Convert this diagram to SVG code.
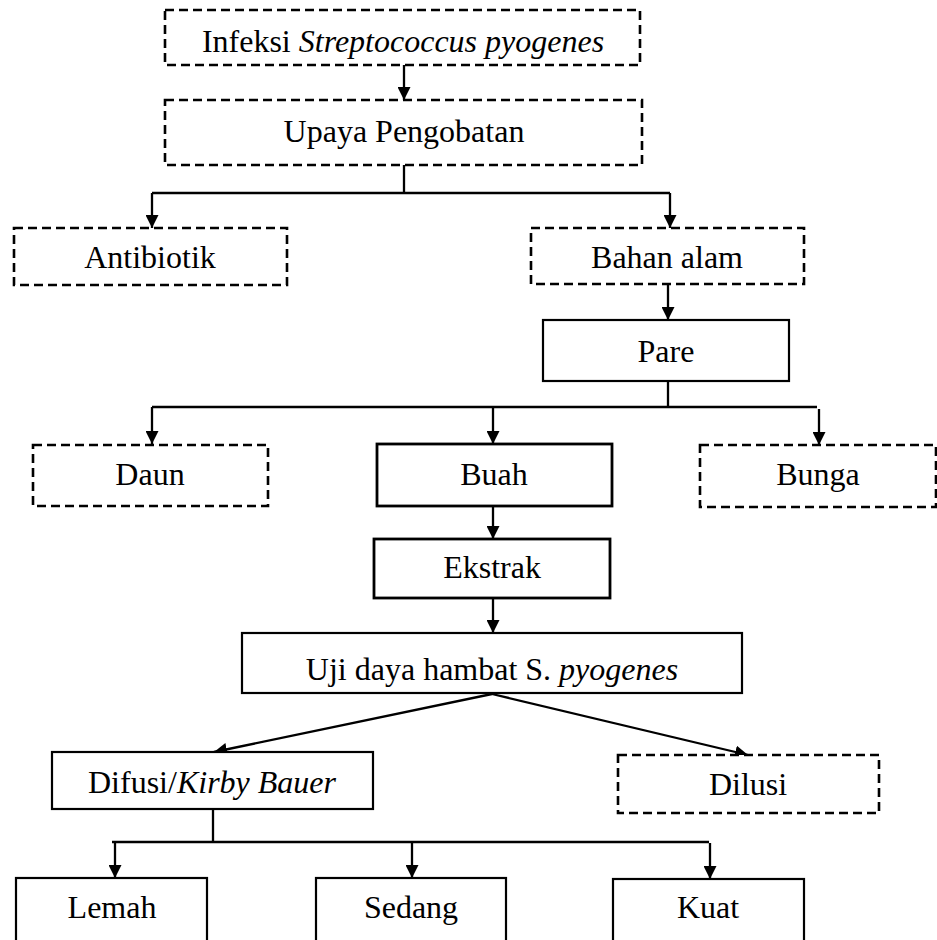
<svg xmlns="http://www.w3.org/2000/svg" width="937" height="940" viewBox="0 0 937 940">
<style>
.bg{fill:#fff}
.dash{fill:#fff;stroke:#000;stroke-width:2.6;stroke-dasharray:9 5}
.solid{fill:#fff;stroke:#000;stroke-width:2.2}
.thick{fill:#fff;stroke:#000;stroke-width:2.8}
.t{font-family:"Liberation Serif","Times New Roman",serif;font-size:32px;fill:#000;text-anchor:middle}
.i{font-style:italic}
.c{fill:none;stroke:#000;stroke-width:2.3}
</style>
<defs>
<marker id="ah" viewBox="0 0 13 13" refX="13" refY="6.5" markerWidth="13" markerHeight="13" markerUnits="userSpaceOnUse" orient="auto">
<path d="M0,0 L13,6.5 L0,13 z" fill="#000"/>
</marker>
</defs>
<rect class="bg" x="0" y="0" width="937" height="940"/>
<g id="connectors">
<path class="c" d="M404,65 V100" marker-end="url(#ah)"/>
<path class="c" d="M404,165 V193"/>
<path class="c" d="M152,193 H670"/>
<path class="c" d="M152,193 V228" marker-end="url(#ah)"/>
<path class="c" d="M670,193 V228" marker-end="url(#ah)"/>
<path class="c" d="M668,284 V320" marker-end="url(#ah)"/>
<path class="c" d="M668,381 V407"/>
<path class="c" d="M152,407 H817"/>
<path class="c" d="M152,407 V444" marker-end="url(#ah)"/>
<path class="c" d="M493,407 V444" marker-end="url(#ah)"/>
<path class="c" d="M819,409 V445" marker-end="url(#ah)"/>
<path class="c" d="M493,506 V539" marker-end="url(#ah)"/>
<path class="c" d="M493,598 V633" marker-end="url(#ah)"/>
<path class="c" d="M492,694 L214,752" marker-end="url(#ah)"/>
<path class="c" d="M492,694 L748,755" marker-end="url(#ah)"/>
<path class="c" d="M213,809 V842"/>
<path class="c" d="M112,842 H709"/>
<path class="c" d="M115,843 V878" marker-end="url(#ah)"/>
<path class="c" d="M412,843 V878" marker-end="url(#ah)"/>
<path class="c" d="M710,843 V879" marker-end="url(#ah)"/>
</g>
<g id="infeksi">
<rect class="dash" x="165" y="10" width="475" height="55"/>
<text class="t" x="403" y="52">Infeksi <tspan class="i">Streptococcus pyogenes</tspan></text>
</g>
<g id="upaya">
<rect class="dash" x="165" y="100" width="477" height="65"/>
<text class="t" x="404" y="142">Upaya Pengobatan</text>
</g>
<g id="antibiotik">
<rect class="dash" x="14" y="228" width="273" height="57"/>
<text class="t" x="150" y="268">Antibiotik</text>
</g>
<g id="bahan-alam">
<rect class="dash" x="531" y="228" width="273" height="56"/>
<text class="t" x="667" y="268">Bahan alam</text>
</g>
<g id="pare">
<rect class="solid" x="543" y="320" width="246" height="61"/>
<text class="t" x="666" y="362">Pare</text>
</g>
<g id="daun">
<rect class="dash" x="33" y="445" width="235" height="61"/>
<text class="t" x="150" y="485">Daun</text>
</g>
<g id="buah">
<rect class="thick" x="377" y="444" width="235" height="62"/>
<text class="t" x="494" y="485">Buah</text>
</g>
<g id="bunga">
<rect class="dash" x="700" y="445" width="236" height="62"/>
<text class="t" x="818" y="485">Bunga</text>
</g>
<g id="ekstrak">
<rect class="thick" x="374" y="539" width="236" height="59"/>
<text class="t" x="492" y="578">Ekstrak</text>
</g>
<g id="uji">
<rect class="solid" x="242" y="633" width="500" height="60"/>
<text class="t" x="492" y="680">Uji daya hambat S. <tspan class="i">pyogenes</tspan></text>
</g>
<g id="difusi">
<rect class="solid" x="52" y="752" width="321" height="57"/>
<text class="t" x="212" y="793">Difusi/<tspan class="i">Kirby Bauer</tspan></text>
</g>
<g id="dilusi">
<rect class="dash" x="618" y="755" width="261" height="58"/>
<text class="t" x="748" y="795">Dilusi</text>
</g>
<g id="lemah">
<rect class="solid" x="16" y="878" width="191" height="70"/>
<text class="t" x="112" y="918">Lemah</text>
</g>
<g id="sedang">
<rect class="solid" x="316" y="878" width="190" height="70"/>
<text class="t" x="411" y="918">Sedang</text>
</g>
<g id="kuat">
<rect class="solid" x="613" y="879" width="191" height="70"/>
<text class="t" x="708" y="918">Kuat</text>
</g>
</svg>
